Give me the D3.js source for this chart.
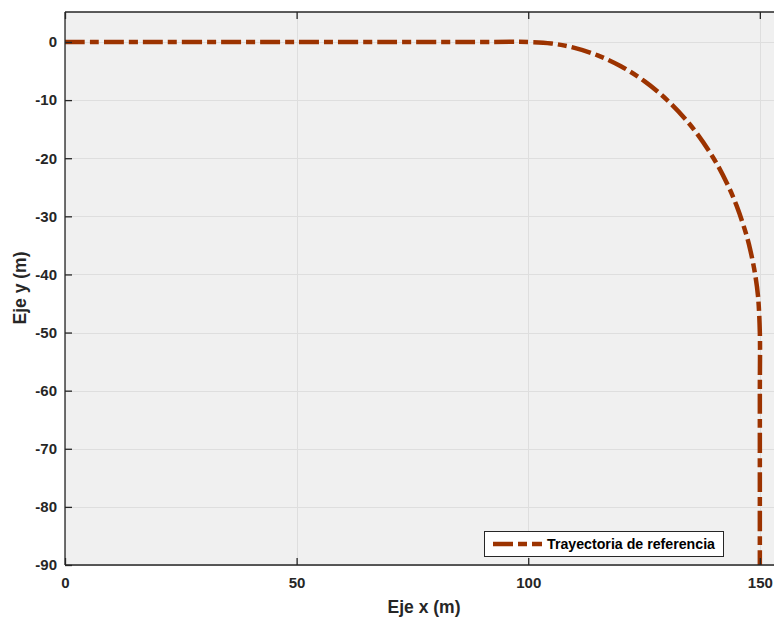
<!DOCTYPE html>
<html>
<head>
<meta charset="utf-8">
<script src="https://cdn.jsdelivr.net/npm/d3@7"></script>
<style>
  html, body { margin: 0; padding: 0; background: #ffffff; }
  svg { display: block; font-family: "Liberation Sans", Arial, Helvetica, sans-serif; }
</style>
</head>
<body>
<svg id="chart" width="774" height="619"></svg>
<script>
// Reference path: straight run along y = 0, a 50 m radius bend, then straight down x = 150
const pathX = [0, 50, 90, 100, 105, 110, 115, 120, 125, 130, 135, 140, 143, 145, 147, 148, 149, 149.6, 150, 150, 150, 150];
const pathY = [0, 0, 0, 0, -0.25, -1.01, -2.30, -4.17, -6.70, -10.0, -14.29, -20.0, -24.49, -28.21, -32.94, -36.0, -40.05, -43.69, -50, -60, -80, -90];

const xTicks = [0, 50, 100, 150];
const yTicks = [0, -10, -20, -30, -40, -50, -60, -70, -80, -90];
const seriesName = "Trayectoria de referencia";
const xLabel = "Eje x (m)";
const yLabel = "Eje y (m)";

const svg = d3.select("#chart");
const plotLeft = 65, plotTop = 12, plotBottom = 565;
const plotRight = 783; // axes run past the visible figure edge

const x = d3.scaleLinear().domain([0, 155]).range([plotLeft, plotRight]);
const y = d3.scaleLinear().domain([-90, 5.16]).range([plotBottom, plotTop]);

const lineColor = "#9c3300";
const axisColor = "#262626";

// plot background
svg.append("rect")
  .attr("x", plotLeft).attr("y", plotTop)
  .attr("width", plotRight - plotLeft).attr("height", plotBottom - plotTop)
  .attr("fill", "#f0f0f0");

// grid
const grid = svg.append("g").attr("stroke", "#dedede").attr("stroke-width", 1);
grid.selectAll("line.gx").data(xTicks).join("line").attr("class", "gx")
  .attr("x1", d => Math.round(x(d)) + 0.5).attr("x2", d => Math.round(x(d)) + 0.5)
  .attr("y1", plotTop).attr("y2", plotBottom);
grid.selectAll("line.gy").data(yTicks).join("line").attr("class", "gy")
  .attr("y1", d => Math.round(y(d)) + 0.5).attr("y2", d => Math.round(y(d)) + 0.5)
  .attr("x1", plotLeft).attr("x2", plotRight);

// data line
svg.append("clipPath").attr("id", "plotclip")
  .append("rect").attr("x", plotLeft).attr("y", plotTop)
  .attr("width", plotRight - plotLeft).attr("height", plotBottom - plotTop);

const pts = pathX.map((d, i) => [d, pathY[i]]);
const line = d3.line()
  .x(d => x(d[0])).y(d => y(d[1]))
  .curve(d3.curveCatmullRom.alpha(0.5));

svg.append("path")
  .attr("clip-path", "url(#plotclip)")
  .attr("d", line(pts))
  .attr("fill", "none")
  .attr("stroke", lineColor)
  .attr("stroke-width", 4.5)
  .attr("stroke-dasharray", "20 5 9 5");

// axes with inward ticks
const xAxis = d3.axisBottom(x).tickValues(xTicks).tickSize(-7).tickPadding(12).tickFormat(d3.format("d"));
const xTop = d3.axisTop(x).tickValues(xTicks).tickSize(-7).tickFormat("");
const yAxis = d3.axisLeft(y).tickValues(yTicks).tickSize(-7).tickPadding(8).tickFormat(d => String(d));

function style(g) {
  g.select(".domain").attr("stroke", axisColor).attr("stroke-width", 1.3);
  g.selectAll(".tick line").attr("stroke", axisColor).attr("stroke-width", 1.3);
  g.selectAll(".tick text").attr("fill", "#262626").attr("font-size", 15).attr("font-weight", "bold")
    .attr("font-family", "'Liberation Sans', Arial, sans-serif");
}

svg.append("g").attr("transform", `translate(0,${plotBottom})`).call(xAxis).call(style)
  .call(g => g.select(".domain").attr("d", `M${plotLeft},0H${plotRight}`));
svg.append("g").attr("transform", `translate(0,${plotTop})`).call(xTop).call(style)
  .call(g => g.select(".domain").attr("d", `M${plotLeft},0H${plotRight}`));
svg.append("g").attr("transform", `translate(${plotLeft},0)`).call(yAxis).call(style)
  .call(g => g.select(".domain").attr("d", `M0,${plotTop}V${plotBottom}`));

// axis titles
svg.append("text")
  .attr("x", 424).attr("y", 613)
  .attr("text-anchor", "middle")
  .attr("font-size", 17.5).attr("font-weight", "bold").attr("fill", "#262626")
  .text(xLabel);
svg.append("text")
  .attr("transform", `translate(26,288) rotate(-90)`)
  .attr("text-anchor", "middle")
  .attr("font-size", 17.5).attr("font-weight", "bold").attr("fill", "#262626")
  .text(yLabel);

// legend
const lg = svg.append("g");
lg.append("rect")
  .attr("x", 484.5).attr("y", 531.5).attr("width", 239).attr("height", 25)
  .attr("fill", "#ffffff").attr("stroke", "#262626").attr("stroke-width", 1);
lg.append("line")
  .attr("x1", 493).attr("x2", 542).attr("y1", 544).attr("y2", 544)
  .attr("stroke", lineColor).attr("stroke-width", 4.5)
  .attr("stroke-dasharray", "20 5 9 5");
lg.append("text")
  .attr("x", 547).attr("y", 549)
  .attr("font-size", 14.2).attr("font-weight", "bold").attr("fill", "#000")
  .text(seriesName);
</script>
</body>
</html>
